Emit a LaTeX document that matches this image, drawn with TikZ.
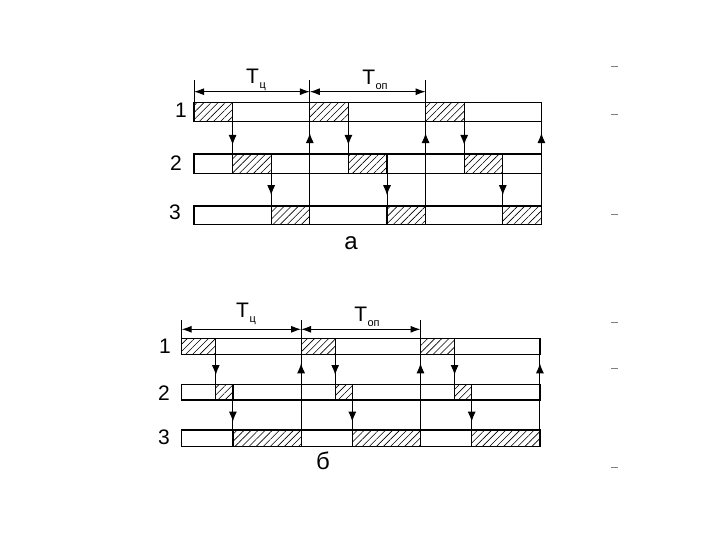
\documentclass[tikz,border=0pt]{standalone}
\usepackage{fontspec}
\setmainfont{Liberation Sans}
\usetikzlibrary{arrows.meta,patterns.meta,decorations.markings}

\newcommand{\Tidx}[1]{T\kern0.5pt\raisebox{-5pt}{\fontsize{11}{11}\selectfont #1}}

\begin{document}
\begin{tikzpicture}[x=1pt, y=-1pt,
    bar/.style={draw=black, line width=1.2pt},
    hatchbar/.style={draw=black, line width=1.2pt, pattern={Lines[angle=45, distance=5pt, line width=0.6pt]}},
    sig/.style={line width=1pt, decoration={markings, mark=at position #1 with {\arrow{Latex[length=10pt, width=8pt]}}}, postaction=decorate},
    dimline/.style={line width=1pt, {Latex[length=10pt, width=7pt]}-{Latex[length=10pt, width=7pt]}},
    rowlbl/.style={font=\fontsize{21}{21}\selectfont},
    capt/.style={font=\fontsize{24}{24}\selectfont}]
  \useasboundingbox[fill=white] (0,0) rectangle (720,540);

  % ---- Схема а ----
  % Полосы операций
  \draw[bar] (194,102.7) rectangle (541.4,121.7);
  \draw[bar] (194,154) rectangle (541.4,173.3);
  \draw[bar] (194,206) rectangle (541.4,224.3);

  % Циклы
  \foreach \k [evaluate=\k as \b using 194+115.8*\k] in {0,1,2}{
    \draw[hatchbar] (\b,102.7) rectangle (\b+38.6,121.7);
    \draw[hatchbar] (\b+38.6,154) rectangle (\b+77.2,173.3);
    \draw[hatchbar] (\b+77.2,206) rectangle (\b+115.8,224.3);
    \draw[sig=0.72] (\b+38.6,121.7) -- (\b+38.6,154);
    \draw[sig=0.67] (\b+77.2,173.3) -- (\b+77.2,206);
    \draw[sig=0.65] (\b+115.8,154) -- (\b+115.8,121.7);
  }
  \draw[line width=1pt] (194,80) -- (194,102.7);
  \draw[line width=1pt] (309.8,80) -- (309.8,224.3);
  \draw[line width=1pt] (425.6,80) -- (425.6,224.3);
  \draw[line width=1pt] (541.4,102.7) -- (541.4,224.3);

  % Размеры
  \draw[dimline] (194,91.7) -- (309.8,91.7);
  \draw[dimline] (309.8,91.7) -- (425.6,91.7);
  \node[rowlbl] (tca) at (256,80) {\Tidx{ц}};
  \node[rowlbl] (topa) at (375,80) {\Tidx{оп}};

  % Подписи
  \node[rowlbl] (a1) at (181,110) {1};
  \node[rowlbl] (a2) at (176,163) {2};
  \node[rowlbl] (a3) at (175,212) {3};
  \node[capt] (capa) at (351,243) {а};

  % ---- Схема б ----
  % Полосы операций
  \draw[bar] (181.7,338.3) rectangle (539.9,354.3);
  \draw[bar] (181.7,384.3) rectangle (539.9,400);
  \draw[bar] (181.7,430) rectangle (539.9,446.7);

  % Циклы
  \foreach \k [evaluate=\k as \b using 181.7+119.4*\k] in {0,1,2}{
    \draw[hatchbar] (\b,338.3) rectangle (\b+34.1,354.3);
    \draw[hatchbar] (\b+34.1,384.3) rectangle (\b+51.2,400);
    \draw[hatchbar] (\b+51.2,430) rectangle (\b+119.4,446.7);
    \draw[sig=0.69] (\b+34.1,354.3) -- (\b+34.1,384.3);
    \draw[sig=0.72] (\b+51.2,400) -- (\b+51.2,430);
    \draw[sig=0.7] (\b+119.4,384.3) -- (\b+119.4,354.3);
  }
  \draw[line width=1pt] (181.7,320) -- (181.7,338.3);
  \draw[line width=1pt] (301.1,320) -- (301.1,446.7);
  \draw[line width=1pt] (420.5,320) -- (420.5,446.7);
  \draw[line width=1pt] (539.9,338.3) -- (539.9,446.7);

  % Размеры
  \draw[dimline] (181.7,329.3) -- (301.1,329.3);
  \draw[dimline] (301.1,329.3) -- (420.5,329.3);
  \node[rowlbl] (tcb) at (246,314) {\Tidx{ц}};
  \node[rowlbl] (topb) at (367,317) {\Tidx{оп}};

  % Подписи
  \node[rowlbl] (b1) at (165,346) {1};
  \node[rowlbl] (b2) at (164,393) {2};
  \node[rowlbl] (b3) at (164,437) {3};
  \node[capt] (capb) at (323,461) {б};

  % Метки справа
  \foreach \y in {67,115,215,322,368,467}
    \draw[gray, line width=1pt] (611,\y) -- (618,\y);
\end{tikzpicture}
\end{document}
